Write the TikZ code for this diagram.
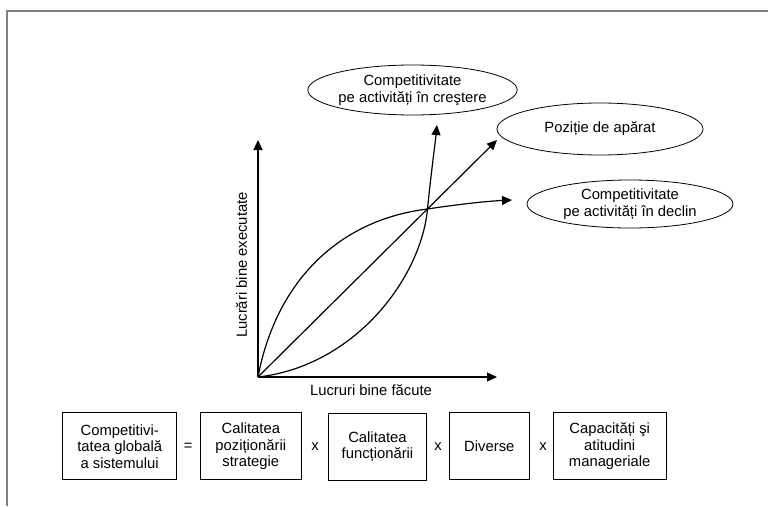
\documentclass[tikz,border=0pt]{standalone}
\usepackage{fontspec}
\setmainfont{Liberation Sans}
\usetikzlibrary{arrows.meta,shapes.geometric}
\tikzset{
  oval/.style={draw,ellipse,inner sep=0pt,align=center,line width=0.8pt},
  factor/.style={draw,minimum height=67pt,inner sep=0pt,align=center,line width=0.9pt},
  tip/.style={-{Triangle[length=10pt,width=9pt]}}
}
\begin{document}
\begin{tikzpicture}[x=1pt,y=-1pt,font=\fontsize{14.8}{16.5}\selectfont,line width=1.2pt]
      \useasboundingbox (0,0) rectangle (768,506);
      \draw[gray,line width=2pt] (7,506) -- (7,10.5) -- (768,10.5);
      \draw
        (258,377) coordinate (o)
        (427.5,209) coordinate (p)
        (258,140) coordinate (ytop)
        (497,377) coordinate (xend)
        (437,125) coordinate (up)
        (497,140) coordinate (diag)
        (512,200) coordinate (flat);
      \draw
        (412.5,90) node[oval,minimum width=205pt,minimum height=50pt] (crestere){Competitivitate\\pe activități în creştere}
        (600,129) node[oval,minimum width=206pt,minimum height=52pt] (aparat){Poziție de apărat}
        (630,204) node[oval,minimum width=206pt,minimum height=48pt] (declin){Competitivitate\\pe activități în declin}
        (241.5,265) node[rotate=90] (ylab){Lucrări bine executate}
        (371,390) node (xlab){Lucruri bine făcute};
      \draw
        (119.7,446.3) node[factor,minimum width=114pt] (global){Competitivi-\\tatea globală\\a sistemului}
        (188.3,446.7) node (eq){=}
        (250.8,446.3) node[factor,minimum width=101.7pt] (pozitie){Calitatea\\poziționării\\strategie}
        (315,447) node (x1){x}
        (377.5,446.6) node[factor,minimum width=98.4pt] (functie){Calitatea\\funcționării}
        (438,447) node (x2){x}
        (489.3,446.3) node[factor,minimum width=80pt] (diverse){Diverse}
        (543,447) node (x3){x}
        (609.7,446.3) node[factor,minimum width=112.7pt] (manager){Capacități şi\\atitudini\\manageriale};
      \begin{scope}[tip]
        \draw (o) to (ytop);
        \draw (o) to (xend);
        \draw (o) to (diag);
        \draw (o) .. controls (355,366) and (421,278) .. (p)
          .. controls (432,165) and (435,145) .. (up);
        \draw (o) .. controls (276,282) and (338,220) .. (p)
          .. controls (460,204) and (490,201) .. (flat);
      \end{scope}
    \end{tikzpicture}
\end{document}
